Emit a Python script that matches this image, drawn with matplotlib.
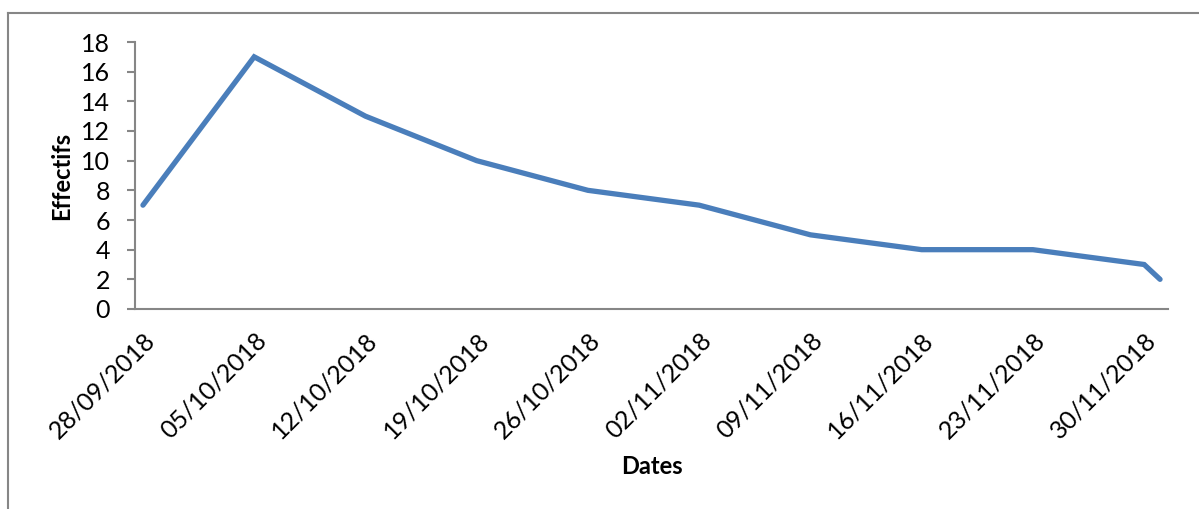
#!/usr/bin/env python3

import matplotlib
matplotlib.use("Agg")
import matplotlib.pyplot as plt
import matplotlib.dates as mdates
from matplotlib.lines import Line2D
import pandas as pd

# values
dates = ["2018-09-28", "2018-10-05", "2018-10-12", "2018-10-19", "2018-10-26",
         "2018-11-02", "2018-11-09", "2018-11-16", "2018-11-23", "2018-11-30",
         "2018-12-01"]
effectifs = [7, 17, 13, 10, 8, 7, 5, 4, 4, 3, 2]
tick_dates = ["2018-09-28", "2018-10-05", "2018-10-12", "2018-10-19", "2018-10-26",
              "2018-11-02", "2018-11-09", "2018-11-16", "2018-11-23", "2018-11-30"]

plt.rcParams["font.family"] = ["Lato", "DejaVu Sans"]
gray = "#868686"

x = pd.to_datetime(dates)
ticks = pd.to_datetime(tick_dates)

fig = plt.figure(figsize=(11.99, 5.09), dpi=100)
ax = fig.add_axes([135 / 1199, 1 - 309 / 509, (1168 - 135) / 1199, (309 - 42) / 509])

ax.plot(x, effectifs, color="#4A7EBB", lw=3.8, solid_capstyle="round",
        solid_joinstyle="miter")

ax.set_xlim(mdates.date2num(x[0]) - 0.5, mdates.date2num(x[-1]) + 0.5)
ax.set_ylim(0, 18)
ax.set_yticks(range(0, 19, 2))
ax.set_xticks(mdates.date2num(ticks))
ax.set_xticklabels([t.strftime("%d/%m/%Y") for t in ticks], rotation=45,
                   ha="right", va="top", rotation_mode="anchor")

for side in ("top", "right"):
    ax.spines[side].set_visible(False)
for side in ("left", "bottom"):
    ax.spines[side].set_color(gray)
    ax.spines[side].set_linewidth(1.5)

ax.tick_params(axis="y", length=6, width=1.5, color=gray, labelsize=18, pad=12)
ax.tick_params(axis="x", length=0, labelsize=18, pad=14)

ax.set_ylabel("Effectifs", fontsize=17, fontweight="bold", va="center")
ax.set_xlabel("Dates", fontsize=17, fontweight="bold", va="center")
ax.yaxis.set_label_coords((62 - 135) / 1033, 0.5)
ax.xaxis.set_label_coords(0.5, (309 - 467) / 267)

# outer chart frame (only left and top edges fall inside the image)
fig.add_artist(Line2D([8 / 1199, 8 / 1199], [0, 1 - 13 / 509], color=gray,
                      lw=1.5, transform=fig.transFigure))
fig.add_artist(Line2D([8 / 1199, 1], [1 - 13 / 509, 1 - 13 / 509], color=gray,
                      lw=1.5, transform=fig.transFigure))

fig.savefig("out.png", dpi=100)
